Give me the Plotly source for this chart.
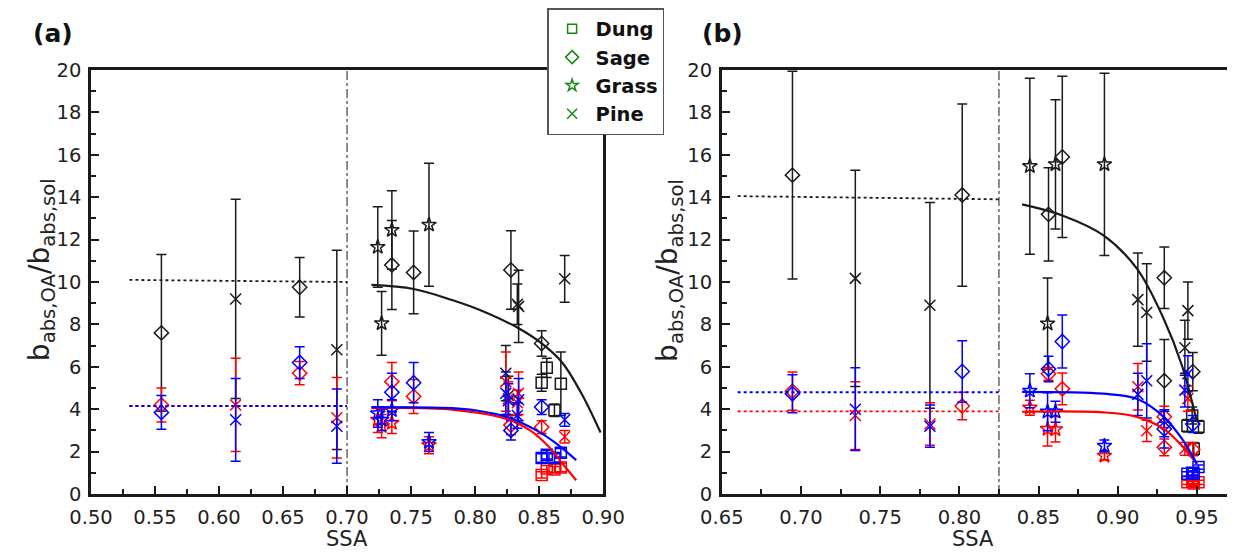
import plotly.graph_objects as go

BLACK = "#1a1a1a"
BLUE = "#0000ff"
RED = "#ff0000"
GREEN = "#138a13"
FONT = "DejaVu Sans"

FUELS = ["Dung", "Sage", "Grass", "Pine"]
SYMBOLS = {"Dung": "square-open", "Sage": "diamond-open", "Grass": "star-open", "Pine": "x-thin-open"}
LEGEND_SIZE = {"Dung": 9, "Sage": 10, "Grass": 9, "Pine": 10}

# ---- panel (a) samples ----
A_SSA = [0.555, 0.613, 0.663, 0.692, 0.724, 0.727, 0.735, 0.735, 0.752, 0.764, 0.828,
         0.834, 0.833, 0.824, 0.826, 0.852, 0.852, 0.856, 0.862, 0.867, 0.870]
A_FUEL = ["Sage", "Pine", "Sage", "Pine", "Grass", "Grass", "Grass", "Sage", "Sage", "Grass", "Sage",
          "Pine", "Pine", "Pine", "Pine", "Sage", "Dung", "Dung", "Dung", "Dung", "Pine"]
A_BLK = [7.6, 9.2, 9.75, 6.8, 11.65, 8.05, 12.45, 10.8, 10.45, 12.7, 10.57,
         8.85, 8.95, 5.7, 4.65, 7.1, 5.25, 5.95, 3.95, 5.2, 10.15]
A_BLK_ERR = [3.7, 4.7, 1.4, 4.7, 1.9, 1.5, 1.85, 2.1, 1.95, 2.9, 1.85,
             1.7, 0.95, 1.3, 0.9, 0.6, 0.4, 0.45, 0.3, 1.5, 1.1]
A_BLU = [3.85, 3.5, 6.2, 3.2, 3.8, 3.5, 3.95, 4.8, 5.25, 2.45, 3.0,
         4.45, 3.7, 4.75, 4.4, 4.1, 1.7, 1.85, 1.7, 1.95, 3.5]
A_BLU_ERR = [0.8, 1.95, 0.75, 1.75, 0.65, 0.5, 0.5, 0.9, 0.95, 0.45, 0.45,
             1.0, 0.6, 1.0, 0.8, 0.35, 0.2, 0.2, 0.2, 0.2, 0.3]
A_RED = [4.2, 4.2, 5.7, 3.6, 3.5, 3.2, 3.35, 5.3, 4.6, 2.3, 3.25,
         4.75, 4.3, 5.3, 4.5, 3.15, 0.9, 1.2, 1.15, 1.25, 2.7]
A_RED_ERR = [0.8, 2.2, 0.55, 1.9, 0.6, 0.55, 0.5, 0.9, 0.8, 0.4, 0.45,
             1.0, 0.6, 1.4, 0.8, 0.3, 0.15, 0.15, 0.15, 0.2, 0.3]

# fitted curves / averages, panel (a)
A_FIT_BLK_X = [0.719, 0.752, 0.782, 0.807, 0.833, 0.852, 0.868, 0.883, 0.898]
A_FIT_BLK_Y = [9.86, 9.67, 9.15, 8.6, 7.85, 7.1, 6.2, 4.75, 2.9]
A_FIT_BLU_X = [0.719, 0.782, 0.80, 0.825, 0.848, 0.863, 0.879]
A_FIT_BLU_Y = [4.1, 4.05, 3.95, 3.63, 3.0, 2.4, 1.6]
A_FIT_RED_X = [0.719, 0.782, 0.825, 0.843, 0.858, 0.868, 0.879]
A_FIT_RED_Y = [4.05, 3.98, 3.53, 3.0, 2.2, 1.45, 0.65]
A_AVG_X = [0.53, 0.70]
A_AVG_BLK = [10.1, 10.0]
A_AVG_BLU = [4.15, 4.15]
A_AVG_RED = [4.15, 4.15]
A_SPLIT = 0.70

# ---- panel (b) samples ----
B_SSA = [0.6946, 0.7343, 0.7814, 0.8018, 0.8445, 0.8563, 0.8557, 0.8607, 0.865, 0.8916, 0.9127,
         0.9183, 0.9294, 0.9294, 0.9443, 0.9424, 0.9474, 0.944, 0.947, 0.951, 0.948]
B_FUEL = ["Sage", "Pine", "Pine", "Sage", "Grass", "Sage", "Grass", "Grass", "Sage", "Grass", "Pine",
          "Pine", "Sage", "Sage", "Pine", "Pine", "Sage", "Dung", "Dung", "Dung", "Dung"]
B_BLK = [15.04, 10.17, 8.9, 14.1, 15.46, 13.19, 8.04, 15.55, 15.9, 15.55, 9.17,
         8.56, 10.2, 5.34, 8.65, 6.9, 5.77, 3.22, 3.7, 3.17, 2.13]
B_BLK_ERR = [4.9, 5.1, 4.85, 4.3, 4.15, 2.2, 2.15, 3.05, 3.8, 4.3, 2.2,
             2.3, 1.45, 1.95, 1.35, 1.3, 0.9, 0.3, 0.4, 0.3, 0.3]
B_BLU = [4.73, 4.0, 3.2, 5.78, 4.87, 5.9, 3.88, 3.88, 7.19, 2.27, 4.7,
         5.34, 3.07, 3.3, 5.67, 4.9, 3.3, 0.95, 1.0, 1.27, 0.95]
B_BLU_ERR = [0.9, 1.95, 1.0, 1.45, 0.8, 0.6, 0.9, 0.5, 1.25, 0.28, 1.0,
             1.75, 0.9, 0.6, 0.85, 0.8, 0.4, 0.1, 0.1, 0.1, 0.1]
B_RED = [4.85, 3.7, 3.3, 4.15, 4.07, 5.67, 3.07, 3.05, 4.96, 1.8, 5.06,
         2.98, 3.64, 2.2, 4.5, 2.13, 2.1, 0.55, 0.6, 0.55, 0.5]
B_RED_ERR = [0.9, 1.6, 1.0, 0.65, 0.35, 0.3, 0.8, 0.6, 0.75, 0.2, 1.1,
             0.5, 0.5, 0.4, 0.6, 0.3, 0.3, 0.1, 0.1, 0.1, 0.1]

B_FIT_BLK_X = [0.8396, 0.865, 0.891, 0.912, 0.929, 0.9406, 0.95]
B_FIT_BLK_Y = [13.66, 13.14, 12.2, 10.64, 8.27, 6.05, 3.4]
B_FIT_BLU_X = [0.8396, 0.891, 0.912, 0.929, 0.9406, 0.95]
B_FIT_BLU_Y = [4.82, 4.73, 4.49, 3.64, 2.6, 1.42]
B_FIT_RED_X = [0.8396, 0.891, 0.912, 0.929, 0.9406, 0.95]
B_FIT_RED_Y = [3.88, 3.85, 3.64, 3.07, 2.27, 1.42]
B_AVG_X = [0.66, 0.825]
B_AVG_BLK = [14.05, 13.9]
B_AVG_BLU = [4.8, 4.8]
B_AVG_RED = [3.9, 3.9]
B_SPLIT = 0.825


def points(x, y, err, fuel, color, xa, ya):
    return go.Scatter(
        x=x, y=y, xaxis=xa, yaxis=ya, mode="markers", showlegend=False,
        marker=dict(symbol=[SYMBOLS[f] for f in fuel], size=11, color=color,
                    line=dict(color=color, width=1.5)),
        error_y=dict(type="data", array=err, visible=True, color=color, thickness=1.5, width=5),
    )


def curve(x, y, color, xa, ya, dash="solid", width=2.2):
    return go.Scatter(
        x=x, y=y, xaxis=xa, yaxis=ya, mode="lines", showlegend=False,
        line=dict(color=color, width=width, dash=dash, shape="spline"),
    )


fig = go.Figure()

for xa, ya, ssa, fuel, series in [
    ("x", "y", A_SSA, A_FUEL, [(A_BLK, A_BLK_ERR, BLACK), (A_RED, A_RED_ERR, RED), (A_BLU, A_BLU_ERR, BLUE)]),
    ("x2", "y2", B_SSA, B_FUEL, [(B_BLK, B_BLK_ERR, BLACK), (B_RED, B_RED_ERR, RED), (B_BLU, B_BLU_ERR, BLUE)]),
]:
    for vals, errs, col in series:
        fig.add_trace(points(ssa, vals, errs, fuel, col, xa, ya))

# fits and averages
fig.add_trace(curve(A_FIT_BLK_X, A_FIT_BLK_Y, BLACK, "x", "y"))
fig.add_trace(curve(A_FIT_RED_X, A_FIT_RED_Y, RED, "x", "y"))
fig.add_trace(curve(A_FIT_BLU_X, A_FIT_BLU_Y, BLUE, "x", "y"))
fig.add_trace(curve(A_AVG_X, A_AVG_BLK, BLACK, "x", "y", dash="dot", width=1.8))
fig.add_trace(curve(A_AVG_X, A_AVG_RED, RED, "x", "y", dash="dot", width=1.8))
fig.add_trace(curve(A_AVG_X, A_AVG_BLU, BLUE, "x", "y", dash="dot", width=1.8))

fig.add_trace(curve(B_FIT_BLK_X, B_FIT_BLK_Y, BLACK, "x2", "y2"))
fig.add_trace(curve(B_FIT_RED_X, B_FIT_RED_Y, RED, "x2", "y2"))
fig.add_trace(curve(B_FIT_BLU_X, B_FIT_BLU_Y, BLUE, "x2", "y2"))
fig.add_trace(curve(B_AVG_X, B_AVG_BLK, BLACK, "x2", "y2", dash="dot", width=1.8))
fig.add_trace(curve(B_AVG_X, B_AVG_RED, RED, "x2", "y2", dash="dot", width=1.8))
fig.add_trace(curve(B_AVG_X, B_AVG_BLU, BLUE, "x2", "y2", dash="dot", width=1.8))

# legend entries (fuel types)
for f in FUELS:
    fig.add_trace(go.Scatter(
        x=[None], y=[None], mode="markers", name=f,
        marker=dict(symbol=SYMBOLS[f], size=LEGEND_SIZE[f], color=GREEN, line=dict(color=GREEN, width=1.5)),
    ))

fig.add_shape(type="line", xref="x", yref="y domain", x0=A_SPLIT, x1=A_SPLIT, y0=0, y1=1,
              line=dict(color=BLACK, width=1, dash="dashdot"))
fig.add_shape(type="line", xref="x2", yref="y2 domain", x0=B_SPLIT, x1=B_SPLIT, y0=0, y1=1,
              line=dict(color=BLACK, width=1, dash="dashdot"))

tickfont = dict(family=FONT, size=19.5, color="#222")
common_x = dict(
    ticks="inside", ticklen=8, tickwidth=1.5, tickcolor=BLACK, dtick=0.05, tickformat=".2f",
    showline=True, linewidth=2.5, linecolor=BLACK, mirror=True, showgrid=False, zeroline=False,
    tickfont=tickfont, ticklabelstandoff=4,
)
common_y = dict(
    ticks="inside", ticklen=8, tickwidth=1.5, tickcolor=BLACK, range=[0, 20], dtick=2, tick0=0,
    showline=True, linewidth=2.5, linecolor=BLACK, showgrid=False, zeroline=False,
    tickfont=tickfont, ticklabelstandoff=3,
    minor=dict(ticks="inside", dtick=1, ticklen=5, tickwidth=1.5, tickcolor=BLACK),
)

# the page body has an 8px margin, so the figure is drawn 8px smaller
fig.update_layout(
    width=1241, height=546,
    margin=dict(l=83, r=0, t=62, b=60),
    plot_bgcolor="white", paper_bgcolor="white",
    font=dict(family=FONT, color="#222"),
    xaxis=dict(domain=[0, 0.4508], range=[0.5, 0.9], tick0=0.5, anchor="y",
               minor=dict(ticks="inside", dtick=0.025, tick0=0.5, ticklen=5, tickwidth=1.5, tickcolor=BLACK),
               **common_x),
    yaxis=dict(domain=[0, 1], anchor="x", mirror=True, **common_y),
    xaxis2=dict(domain=[0.5553, 1], range=[0.65, 0.969], tick0=0.65, anchor="y2",
                minor=dict(ticks="inside", dtick=0.025, tick0=0.65, ticklen=5, tickwidth=1.5, tickcolor=BLACK),
                **common_x),
    yaxis2=dict(domain=[0, 1], anchor="x2", mirror=False, **common_y),
    showlegend=True,
    legend=dict(x=0.4015, y=1.146, xanchor="left", yanchor="top", bgcolor="white",
                bordercolor="#555", borderwidth=1.5, itemwidth=37,
                font=dict(family=FONT, size=19.5, color="#111", weight="bold")),
)

ytitle = "b<sub>abs,OA</sub>/b<sub>abs,sol</sub>"
annotations = [
    dict(text="<b>(a)</b>", x=-0.0527, y=1.087, xanchor="left"),
    dict(text="<b>(b)</b>", x=0.5363, y=1.087, xanchor="left"),
]
for a in annotations:
    fig.add_annotation(xref="paper", yref="paper", yanchor="middle", showarrow=False,
                       font=dict(family=FONT, size=25, color="#111"), **a)
for xp in [-0.044, 0.5086]:
    fig.add_annotation(text=ytitle, xref="paper", yref="paper", x=xp, y=0.528, textangle=-90,
                       xanchor="center", yanchor="middle",
                       showarrow=False, font=dict(family=FONT, size=28, color="#222"))
for xp in [0.2254, 0.7763]:
    fig.add_annotation(text="SSA", xref="paper", yref="paper", x=xp, y=-0.107,
                       xanchor="center", yanchor="middle",
                       showarrow=False, font=dict(family=FONT, size=21, color="#222"))

fig.write_html("out.html")
